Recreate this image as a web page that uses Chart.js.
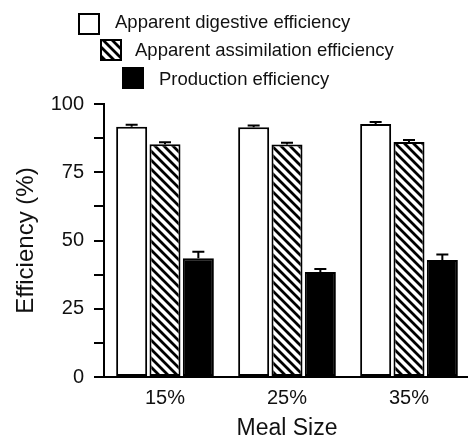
<!DOCTYPE html>
<html>
<head>
<meta charset="utf-8">
<script src="https://cdn.jsdelivr.net/npm/chart.js@4.4.1/dist/chart.umd.min.js"></script>
<style>
html, body { margin: 0; padding: 0; background: #fff; overflow: hidden; }
#wrap { width: 470px; height: 442px; }
</style>
</head>
<body>
<div id="wrap"><canvas id="eff-chart"></canvas></div>
<script>
var mealSizes = ["15%", "25%", "35%"];
var seriesNames = ["Apparent digestive efficiency", "Apparent assimilation efficiency", "Production efficiency"];
var digestive = [91.7, 91.5, 92.7];
var digestiveErr = [0.7, 0.6, 0.7];
var assimilation = [85.3, 85.2, 86.1];
var assimilationErr = [0.7, 0.6, 0.7];
var production = [43.5, 38.5, 42.9];
var productionErr = [2.4, 1.1, 2.0];
var yLabelTicks = [0, 25, 50, 75, 100];

var FONT = "'Liberation Sans', Arial, sans-serif";

var makeHatch = function () { // rayado diagonal tipo "\\\"
    var s = 9;
    var c = document.createElement('canvas');
    c.width = s; c.height = s;
    var ctx = c.getContext('2d');
    ctx.fillStyle = '#fff';
    ctx.fillRect(0, 0, s, s);
    ctx.strokeStyle = '#000';
    ctx.lineWidth = 2.8;
    ctx.beginPath();
    ctx.moveTo(-2, -2); ctx.lineTo(s + 2, s + 2);
    ctx.moveTo(-2, s - 2); ctx.lineTo(2, s + 2);
    ctx.moveTo(s - 2, -2); ctx.lineTo(s + 2, 2);
    ctx.stroke();
    return ctx.createPattern(c, 'repeat');
};
var hatch = makeHatch();

var errorBars = { // solo la parte superior del error
    id: 'errorBars',
    afterDatasetsDraw: function (chart) {
        var ctx = chart.ctx;
        var y = chart.scales.y;
        ctx.save();
        ctx.strokeStyle = '#000';
        ctx.lineWidth = 2;
        chart.data.datasets.forEach(function (ds, i) {
            var meta = chart.getDatasetMeta(i);
            meta.data.forEach(function (bar, j) {
                var top = y.getPixelForValue(ds.data[j] + ds.errors[j]);
                var base = y.getPixelForValue(ds.data[j]);
                ctx.beginPath();
                ctx.moveTo(bar.x, base);
                ctx.lineTo(bar.x, top);
                ctx.moveTo(bar.x - 6, top);
                ctx.lineTo(bar.x + 6, top);
                ctx.stroke();
            });
        });
        ctx.restore();
    }
};

var stairLegend = { // leyenda escalonada arriba
    id: 'stairLegend',
    afterDraw: function (chart) {
        var ctx = chart.ctx;
        var boxes = [[78, 13], [100, 39], [122, 67]];
        var textX = [115, 135, 159];
        var base = [28, 56, 85];
        ctx.save();
        ctx.font = "18.5px " + FONT;
        ctx.textBaseline = 'alphabetic';
        chart.data.datasets.forEach(function (ds, i) {
            var b = boxes[i];
            ctx.fillStyle = ds.backgroundColor;
            ctx.fillRect(b[0], b[1], 22, 22);
            ctx.strokeStyle = '#000';
            ctx.lineWidth = 2;
            ctx.strokeRect(b[0] + 1, b[1] + 1, 20, 20);
            ctx.fillStyle = '#111';
            ctx.fillText(ds.label, textX[i], base[i]);
        });
        ctx.restore();
    }
};

var barStyle = {
    borderColor: '#000',
    borderWidth: 2,
    borderSkipped: false,
    categoryPercentage: 0.82,
    barPercentage: 0.93
};

new Chart(document.getElementById("eff-chart"), {
    type: 'bar',
    data: {
        labels: mealSizes,
        datasets: [
            Object.assign({ label: seriesNames[0], data: digestive, errors: digestiveErr, backgroundColor: '#fff' }, barStyle),
            Object.assign({ label: seriesNames[1], data: assimilation, errors: assimilationErr, backgroundColor: hatch }, barStyle),
            Object.assign({ label: seriesNames[2], data: production, errors: productionErr, backgroundColor: '#000' }, barStyle)
        ]
    },
    options: {
        responsive: true,
        maintainAspectRatio: false,
        animation: false,
        layout: { padding: { top: 104, left: 0, right: 0, bottom: 0 } },
        plugins: {
            legend: { display: false },
            tooltip: { enabled: false }
        },
        scales: {
            x: {
                grid: { display: false },
                border: { display: true, color: '#000', width: 2 },
                ticks: { color: '#111', font: { family: FONT, size: 20 }, padding: 1 },
                title: { display: true, text: 'Meal Size', color: '#111', font: { family: FONT, size: 23 }, padding: 0 },
                afterFit: function (scale) { scale.height = 65; }
            },
            y: {
                min: 0,
                max: 100,
                grid: { drawOnChartArea: false, drawTicks: true, tickLength: 10, color: '#000', lineWidth: 2 },
                border: { display: true, color: '#000', width: 2 },
                ticks: {
                    stepSize: 12.5,
                    color: '#111',
                    font: { family: FONT, size: 20 },
                    padding: 10,
                    callback: function (v) { return yLabelTicks.indexOf(v) >= 0 ? v : ''; }
                },
                title: { display: true, text: 'Efficiency (%)', color: '#111', font: { family: FONT, size: 24 }, padding: { top: 12, bottom: 0 } },
                afterFit: function (scale) { scale.width = 104; }
            }
        }
    },
    plugins: [errorBars, stairLegend]
});
</script>
</body>
</html>
